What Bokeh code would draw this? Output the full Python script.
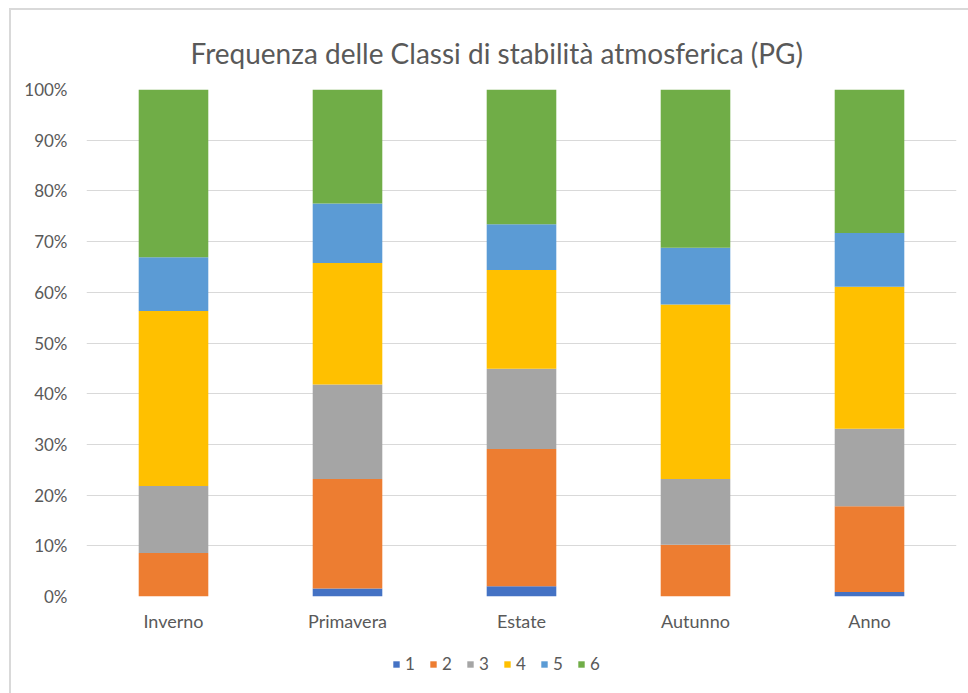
from bokeh.plotting import figure
from bokeh.layouts import column
from bokeh.models import FactorRange, Range1d, NumeralTickFormatter, Legend, LegendItem, ColumnDataSource, FixedTicker
from bokeh.embed import file_html
from bokeh.resources import INLINE

categories = ["Inverno", "Primavera", "Estate", "Autunno", "Anno"]
classes = ["1", "2", "3", "4", "5", "6"]
c1 = [0.0, 1.6, 2.0, 0.0, 0.9]
c2 = [8.6, 21.6, 27.1, 10.2, 16.9]
c3 = [13.2, 18.6, 15.8, 13.0, 15.3]
c4 = [34.5, 24.0, 19.5, 34.4, 28.0]
c5 = [10.6, 11.7, 9.0, 11.2, 10.6]
c6 = [33.1, 22.5, 26.6, 31.2, 28.3]
colors = ["#4472C4", "#ED7D31", "#A5A5A5", "#FFC000", "#5B9BD5", "#70AD47"]
series = [c1, c2, c3, c4, c5, c6]

data = {"cat": categories}
for name, vals in zip(classes, series):
    tot = [sum(s[i] for s in series) for i in range(len(categories))]
    data[name] = [v / t for v, t in zip(vals, tot)]
source = ColumnDataSource(data)

FONT = "Lato"
TXT = "#595959"

xr = FactorRange(*categories, range_padding=0)
p = figure(x_range=xr, y_range=Range1d(0, 1),
           width=957, height=630, output_backend="svg", toolbar_location=None,
           min_border_left=75, min_border_right=12, min_border_top=79, min_border_bottom=44)

p.vbar_stack(classes, x="cat", width=0.4, source=source, color=colors, line_color=None)

p.title.text = "Frequenza delle Classi di stabilità atmosferica (PG)"
p.title.align = "left"
p.title.offset = 104
p.title.text_font = FONT
p.title.text_font_size = "28px"
p.title.text_font_style = "normal"
p.title.text_color = TXT
p.title.standoff = 39

p.yaxis.ticker = FixedTicker(ticks=[i / 10 for i in range(11)])
p.yaxis.formatter = NumeralTickFormatter(format="0%")
p.yaxis.axis_line_color = None
p.yaxis.major_tick_line_color = None
p.yaxis.minor_tick_line_color = None
p.yaxis.major_label_standoff = 13
p.yaxis.major_label_text_font = FONT
p.yaxis.major_label_text_font_size = "17px"
p.yaxis.major_label_text_color = TXT

p.xaxis.axis_line_color = None
p.xaxis.major_tick_line_color = None
p.xaxis.major_label_standoff = 7
p.xaxis.major_label_text_font = FONT
p.xaxis.major_label_text_font_size = "18px"
p.xaxis.major_label_text_color = TXT

p.xgrid.grid_line_color = None
p.ygrid.grid_line_color = "#d9d9d9"
p.ygrid.grid_line_width = 1
p.outline_line_color = None

# legend strip below the chart (bars drawn out of view, only the legend shows)
pl = figure(x_range=xr, y_range=Range1d(10, 11), width=957, height=53,
            output_backend="svg", toolbar_location=None,
            x_axis_location=None, y_axis_location=None,
            min_border_left=75, min_border_right=12, min_border_top=0, min_border_bottom=0)
pl.grid.grid_line_color = None
pl.outline_line_color = None
leg_r = pl.vbar_stack(classes, x="cat", width=0.4, source=source, color=colors, line_color=None)

legend = Legend(items=[LegendItem(label=c, renderers=[r]) for c, r in zip(classes, leg_r)],
                orientation="horizontal", location=(306, 19))
legend.glyph_width = 8
legend.glyph_height = 8
legend.label_standoff = 5
legend.spacing = 4
legend.padding = 0
legend.margin = 0
legend.label_text_font = FONT
legend.label_text_font_size = "17px"
legend.label_text_color = TXT
legend.border_line_color = None
legend.background_fill_alpha = 0
pl.add_layout(legend, "center")

layout = column(p, pl, spacing=0,
                styles={"margin-left": "9px", "margin-top": "8px",
                        "border-left": "2px solid #d9d9d9", "border-top": "2px solid #d9d9d9"})

open("out.html", "w").write(file_html(layout, INLINE))
